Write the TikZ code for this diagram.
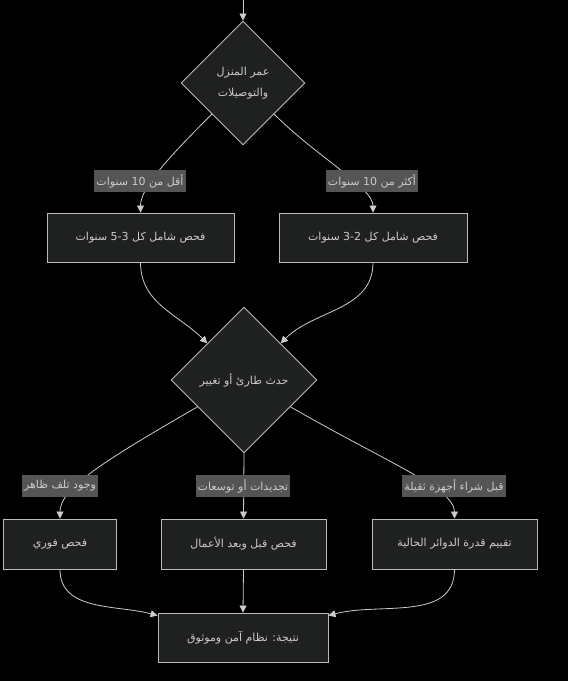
\documentclass[tikz,border=0pt]{standalone}
\usepackage{fontspec}
\usetikzlibrary{shapes.geometric,arrows.meta}
\TeXXeTstate=1
\newfontfamily\arabicfont[Script=Arabic]{DejaVu Sans}
\newcommand\artext[1]{{\arabicfont\beginR #1\endR}}
\newcommand\ltrtext[1]{\beginL #1\endL{}}
\definecolor{bg}{HTML}{000000}
\definecolor{boxfill}{HTML}{1F2020}
\definecolor{boxline}{HTML}{BBBBBB}
\definecolor{edgecol}{HTML}{CCCCCC}
\definecolor{lblfill}{HTML}{555555}
\definecolor{txt}{HTML}{CCCCCC}
\tikzset{
  x=1pt, y=1pt,
  procbox/.style={draw=boxline, fill=boxfill, line width=0.9pt, rectangle, inner sep=0pt,
    text=txt, font=\fontsize{11}{13}\selectfont},
  dia/.style={draw=boxline, fill=boxfill, line width=0.9pt, diamond, inner sep=0pt,
    text=txt, align=center, font=\fontsize{11}{13}\selectfont},
  lbl/.style={fill=lblfill, text=txt, inner xsep=2pt, inner ysep=0pt, minimum height=22pt,
    font=\fontsize{11}{13}\selectfont},
  edge/.style={draw=edgecol, line width=0.8pt, -{Triangle[length=7pt,width=7pt]}},
}
\begin{document}
\begin{tikzpicture}
\fill[bg] (0,0) rectangle (568,681);
\useasboundingbox (0,0) rectangle (568,681);

\coordinate (top) at (243,681);
\node[dia, minimum width=124pt, minimum height=124pt] (d1) at (243,598)
  {\artext{عمر المنزل}\\[8pt]\artext{والتوصيلات}};
\node[procbox, minimum width=187pt, minimum height=49pt] (b1) at (140.5,443.5)
  {\artext{فحص شامل كل \ltrtext{5-3} سنوات}};
\node[procbox, minimum width=188pt, minimum height=49pt] (b2) at (373,443.5)
  {\artext{فحص شامل كل \ltrtext{3-2} سنوات}};
\node[dia, minimum width=146pt, minimum height=146pt] (d2) at (244,301)
  {\artext{حدث طارئ أو تغيير}};
\node[procbox, minimum width=113pt, minimum height=50pt] (c1) at (60,137)
  {\artext{فحص فوري}};
\node[procbox, minimum width=165pt, minimum height=50pt] (c2) at (243.5,137)
  {\artext{فحص قبل وبعد الأعمال}};
\node[procbox, minimum width=165pt, minimum height=50pt] (c3) at (454.5,137)
  {\artext{تقييم قدرة الدوائر الحالية}};
\node[procbox, minimum width=170pt, minimum height=49pt] (fin) at (243,43.5)
  {\artext{نتيجة: نظام آمن وموثوق}};

\draw[edge] (top) -- (d1.north);
\draw[edge] (d1.south west) to[out=-135,in=90,out distance=60pt,in distance=25pt] (b1.north);
\draw[edge] (d1.south east) to[out=-45,in=90,out distance=60pt,in distance=25pt] (b2.north);
\draw[edge] (b1.south) to[out=-90,in=135] (d2.135);
\draw[edge] (b2.south) to[out=-90,in=45] (d2.45);
\draw[edge] (d2.-150) to[out=-150,in=90,out distance=110pt,in distance=30pt] (c1.north);
\draw[edge] (d2.south) -- (c2.north);
\draw[edge] (d2.-30) to[out=-30,in=90,out distance=110pt,in distance=30pt] (c3.north);
\draw[edge] (c1.south) to[out=-90,in=165] ([yshift=-3pt]fin.north west);
\draw[edge] (c2.south) -- (fin.north);
\draw[edge] (c3.south) to[out=-90,in=15] ([yshift=-3pt]fin.north east);

\node[lbl] (l1) at (140,500) {\artext{أقل من \ltrtext{10} سنوات}};
\node[lbl] (l2) at (372,500) {\artext{أكثر من \ltrtext{10} سنوات}};
\node[lbl] (m1) at (60,195) {\artext{وجود تلف ظاهر}};
\node[lbl] (m2) at (243,195) {\artext{تجديدات أو توسعات}};
\node[lbl] (m3) at (454,195) {\artext{قبل شراء أجهزة ثقيلة}};
\end{tikzpicture}
\end{document}
